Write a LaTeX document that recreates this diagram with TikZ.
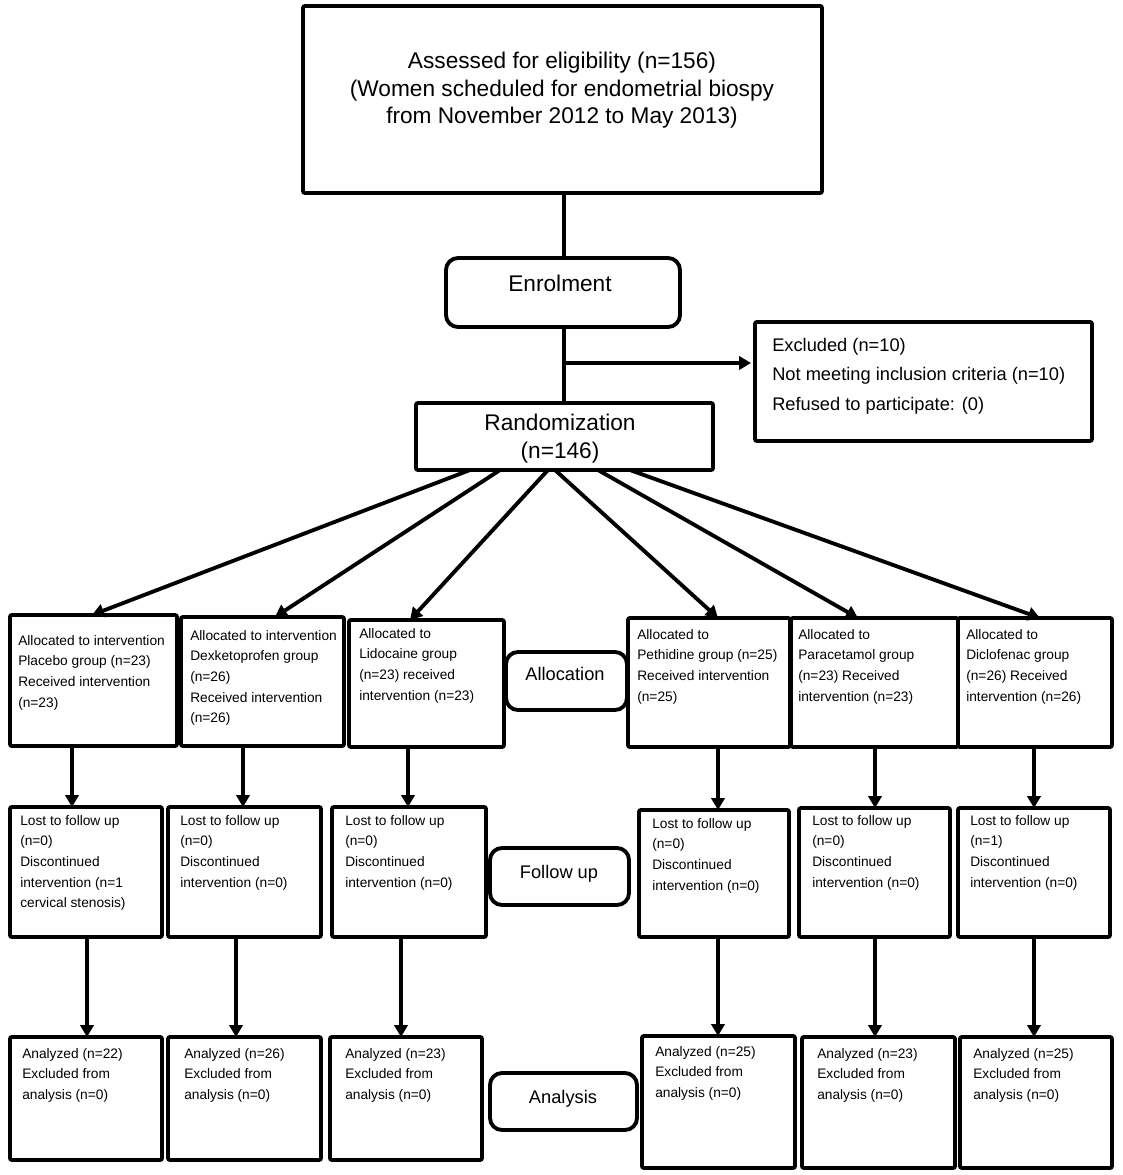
\documentclass[tikz,border=0pt]{standalone}
\usepackage{fontspec}
\setmainfont{Liberation Sans}
\usetikzlibrary{arrows.meta,calc}
\newcommand{\mkbox}[6]{\node[#1, anchor=north west, minimum width={(#5-#3)*0.75pt}, minimum height={(#6-#4)*0.75pt}] (#2) at (#3,#4) {};}
\begin{document}
\begin{tikzpicture}[x=0.75pt,y=-0.75pt,
  plainbox/.style={draw, line width=2.9pt, rounded corners=1.5pt, inner sep=0pt, outer sep=0pt},
  stagebox/.style={plainbox, rounded corners=9pt},
  conn/.style={line width=2.9pt},
  arr/.style={conn, -{Triangle[length=9pt,width=10pt]}},
  big/.style={font=\fontsize{17}{20.6}\selectfont, align=center, inner sep=0pt},
  stage/.style={font=\fontsize{13.7}{16}\selectfont, inner sep=0pt, anchor=base},
  excltext/.style={font=\fontsize{13.7}{22.1}\selectfont, align=left, anchor=north west, inner sep=0pt},
  small/.style={font=\fontsize{10.3}{15.5}\selectfont, align=left, anchor=north west, inner sep=0pt},
]
\useasboundingbox[fill=white] (0,0) rectangle (1122,1175);

% boxes
\mkbox{plainbox}{top}{303}{6}{822}{193}
\mkbox{stagebox}{enrol}{446}{258}{680}{327}
\mkbox{plainbox}{excl}{755}{322}{1092}{441}
\mkbox{plainbox}{rand}{416}{403}{713}{470}

\mkbox{plainbox}{a1}{10}{615}{177}{746}
\mkbox{plainbox}{a2}{181}{617}{344}{746}
\mkbox{plainbox}{a3}{349}{620}{504}{747}
\mkbox{stagebox}{alloc}{506}{652}{627}{710}
\mkbox{plainbox}{a4}{628}{618}{790}{747}
\mkbox{plainbox}{a5}{791}{618}{958}{747}
\mkbox{plainbox}{a6}{958}{618}{1112}{747}

\mkbox{plainbox}{f1}{10}{807}{162}{937}
\mkbox{plainbox}{f2}{168}{807}{321}{937}
\mkbox{plainbox}{f3}{332}{807}{486}{937}
\mkbox{stagebox}{follow}{490}{848}{629}{905}
\mkbox{plainbox}{f4}{639}{810}{789}{937}
\mkbox{plainbox}{f5}{799}{808}{950}{937}
\mkbox{plainbox}{f6}{958}{808}{1110}{937}

\mkbox{plainbox}{n1}{10}{1037}{162}{1160}
\mkbox{plainbox}{n2}{168}{1037}{321}{1160}
\mkbox{plainbox}{n3}{330}{1037}{482}{1160}
\mkbox{stagebox}{anal}{490}{1073}{637}{1130}
\mkbox{plainbox}{n4}{642}{1036}{795}{1168}
\mkbox{plainbox}{n5}{802}{1037}{955}{1168}
\mkbox{plainbox}{n6}{960}{1037}{1112}{1168}

% texts
\node[big, anchor=north] (ttopt) at (562,52) {Assessed for eligibility (n=156)\\(Women scheduled for endometrial biospy\\from November 2012 to May 2013)};
\node[big, anchor=base] (tenrol) at (560,291) {Enrolment};
\node[big, anchor=north] (trand) at (560,414) {Randomization\\(n=146)};
\node[excltext] (texcl) at (772,338) {Excluded (n=10)\\Not meeting inclusion criteria (n=10)\\Refused to participate: (0)};

\node[stage] (talloc) at (565,680.5) {Allocation};
\node[stage] (tfollow) at (559,878.5) {Follow up};
\node[stage] (tanal) at (563,1103.5) {Analysis};

\node[small] (ta1) at (18,635) {Allocated to intervention\\Placebo group (n=23)\\Received intervention\\(n=23)};
\node[small] (ta2) at (190,630) {Allocated to intervention\\Dexketoprofen group\\(n=26)\\Received intervention\\(n=26)};
\node[small] (ta3) at (359,628) {Allocated to\\Lidocaine group\\(n=23) received\\intervention (n=23)};
\node[small] (ta4) at (637,629) {Allocated to\\Pethidine group (n=25)\\Received intervention\\(n=25)};
\node[small] (ta5) at (798,629) {Allocated to\\Paracetamol group\\(n=23) Received\\intervention (n=23)};
\node[small] (ta6) at (966,629) {Allocated to\\Diclofenac group\\(n=26) Received\\intervention (n=26)};

\node[small] (tf1) at (20,815) {Lost to follow up\\(n=0)\\Discontinued\\intervention (n=1\\cervical stenosis)};
\node[small] (tf2) at (180,815) {Lost to follow up\\(n=0)\\Discontinued\\intervention (n=0)};
\node[small] (tf3) at (345,815) {Lost to follow up\\(n=0)\\Discontinued\\intervention (n=0)};
\node[small] (tf4) at (652,818) {Lost to follow up\\(n=0)\\Discontinued\\intervention (n=0)};
\node[small] (tf5) at (812,815) {Lost to follow up\\(n=0)\\Discontinued\\intervention (n=0)};
\node[small] (tf6) at (970,815) {Lost to follow up\\(n=1)\\Discontinued\\intervention (n=0)};

\node[small] (tn1) at (22,1048) {Analyzed (n=22)\\Excluded from\\analysis (n=0)};
\node[small] (tn2) at (184,1048) {Analyzed (n=26)\\Excluded from\\analysis (n=0)};
\node[small] (tn3) at (345,1048) {Analyzed (n=23)\\Excluded from\\analysis (n=0)};
\node[small] (tn4) at (655,1046) {Analyzed (n=25)\\Excluded from\\analysis (n=0)};
\node[small] (tn5) at (817,1048) {Analyzed (n=23)\\Excluded from\\analysis (n=0)};
\node[small] (tn6) at (973,1048) {Analyzed (n=25)\\Excluded from\\analysis (n=0)};

% connectors
\draw[conn] (top.south -| 564,0) -- (enrol.north -| 564,0);
\draw[conn] (enrol.south -| 564,0) -- (rand.north -| 564,0);
\coordinate (br) at (564,363);
\draw[arr, shorten >=3pt] (br) -- (excl.west |- br);

\draw[arr] ($(rand.south west)+(54,0)$) -- ($(a1.north west)+(82,0)$);
\draw[arr] ($(rand.south west)+(84,0)$) -- ($(a2.north west)+(94,0)$);
\draw[arr] ($(rand.south west)+(132,0)$) -- ($(a3.north west)+(61,0)$);
\draw[arr] ($(rand.south west)+(139,0)$) -- ($(a4.north west)+(90,0)$);
\draw[arr] ($(rand.south west)+(182,0)$) -- ($(a5.north west)+(67,0)$);
\draw[arr] ($(rand.south west)+(214,0)$) -- ($(a6.north west)+(82,0)$);

\draw[arr] (a1.south -| 72,0) -- (f1.north -| 72,0);
\draw[arr] (a2.south -| 243,0) -- (f2.north -| 243,0);
\draw[arr] (a3.south -| 408,0) -- (f3.north -| 408,0);
\draw[arr] (a4.south -| 718,0) -- (f4.north -| 718,0);
\draw[arr] (a5.south -| 875,0) -- (f5.north -| 875,0);
\draw[arr] (a6.south -| 1034,0) -- (f6.north -| 1034,0);

\draw[arr] (f1.south -| 87,0) -- (n1.north -| 87,0);
\draw[arr] (f2.south -| 236,0) -- (n2.north -| 236,0);
\draw[arr] (f3.south -| 401,0) -- (n3.north -| 401,0);
\draw[arr] (f4.south -| 718,0) -- (n4.north -| 718,0);
\draw[arr] (f5.south -| 875,0) -- (n5.north -| 875,0);
\draw[arr] (f6.south -| 1034,0) -- (n6.north -| 1034,0);
\end{tikzpicture}
\end{document}
